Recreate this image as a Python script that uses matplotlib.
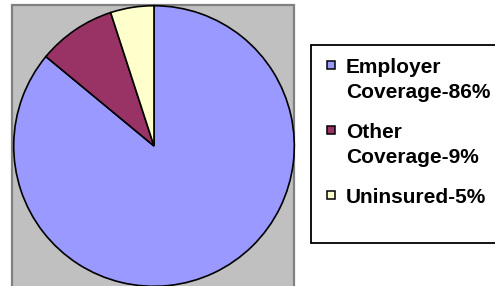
import matplotlib.pyplot as plt
from matplotlib.patches import Rectangle

labels = ["Employer\nCoverage-86%", "Other\nCoverage-9%", "Uninsured-5%"]
shares = [86, 9, 5]
colors = ["#9999FF", "#993366", "#FFFFCC"]

W, H = 495, 286
fig = plt.figure(figsize=(W / 100, H / 100), dpi=100)
fig.patch.set_facecolor("white")


def fx(px):
    return px / W


def fy(py):
    # py measured from the top edge
    return 1 - py / H


# grey plot area, kept behind the pie axes
fig.patches.append(Rectangle((fx(12), fy(292)), fx(282), 287 / H,
                             transform=fig.transFigure, facecolor="#C0C0C0",
                             edgecolor="#808080", linewidth=1.6, zorder=-5))

# pie
ax = fig.add_axes([fx(13), fy(287), fx(282), 282 / H])
ax.pie(shares, colors=colors, startangle=90, counterclock=False,
       wedgeprops=dict(edgecolor="black", linewidth=1.2))
ax.set_xlim(-1.005, 1.005)
ax.set_ylim(-1.005, 1.005)
ax.set_aspect("equal")
ax.axis("off")

# legend box
fig.patches.append(Rectangle((fx(311), fy(243)), fx(200), 198 / H,
                             transform=fig.transFigure, facecolor="white",
                             edgecolor="black", linewidth=1.3))

y0 = 73
for i, (lab, c) in enumerate(zip(labels, colors)):
    base = y0 + i * 65
    fig.patches.append(Rectangle((fx(327), fy(base - 4.5)), fx(7.5), 7.5 / H,
                                 transform=fig.transFigure, facecolor=c,
                                 edgecolor="black", linewidth=1.1))
    first, *rest = lab.split("\n")
    fig.text(fx(346), fy(base), first, fontsize=15, fontweight="bold",
             family="Liberation Sans", va="baseline", ha="left")
    for j, line in enumerate(rest):
        fig.text(fx(346), fy(base + 25 * (j + 1)), line, fontsize=15,
                 fontweight="bold", family="Liberation Sans",
                 va="baseline", ha="left")

fig.savefig("out.png", dpi=100)
